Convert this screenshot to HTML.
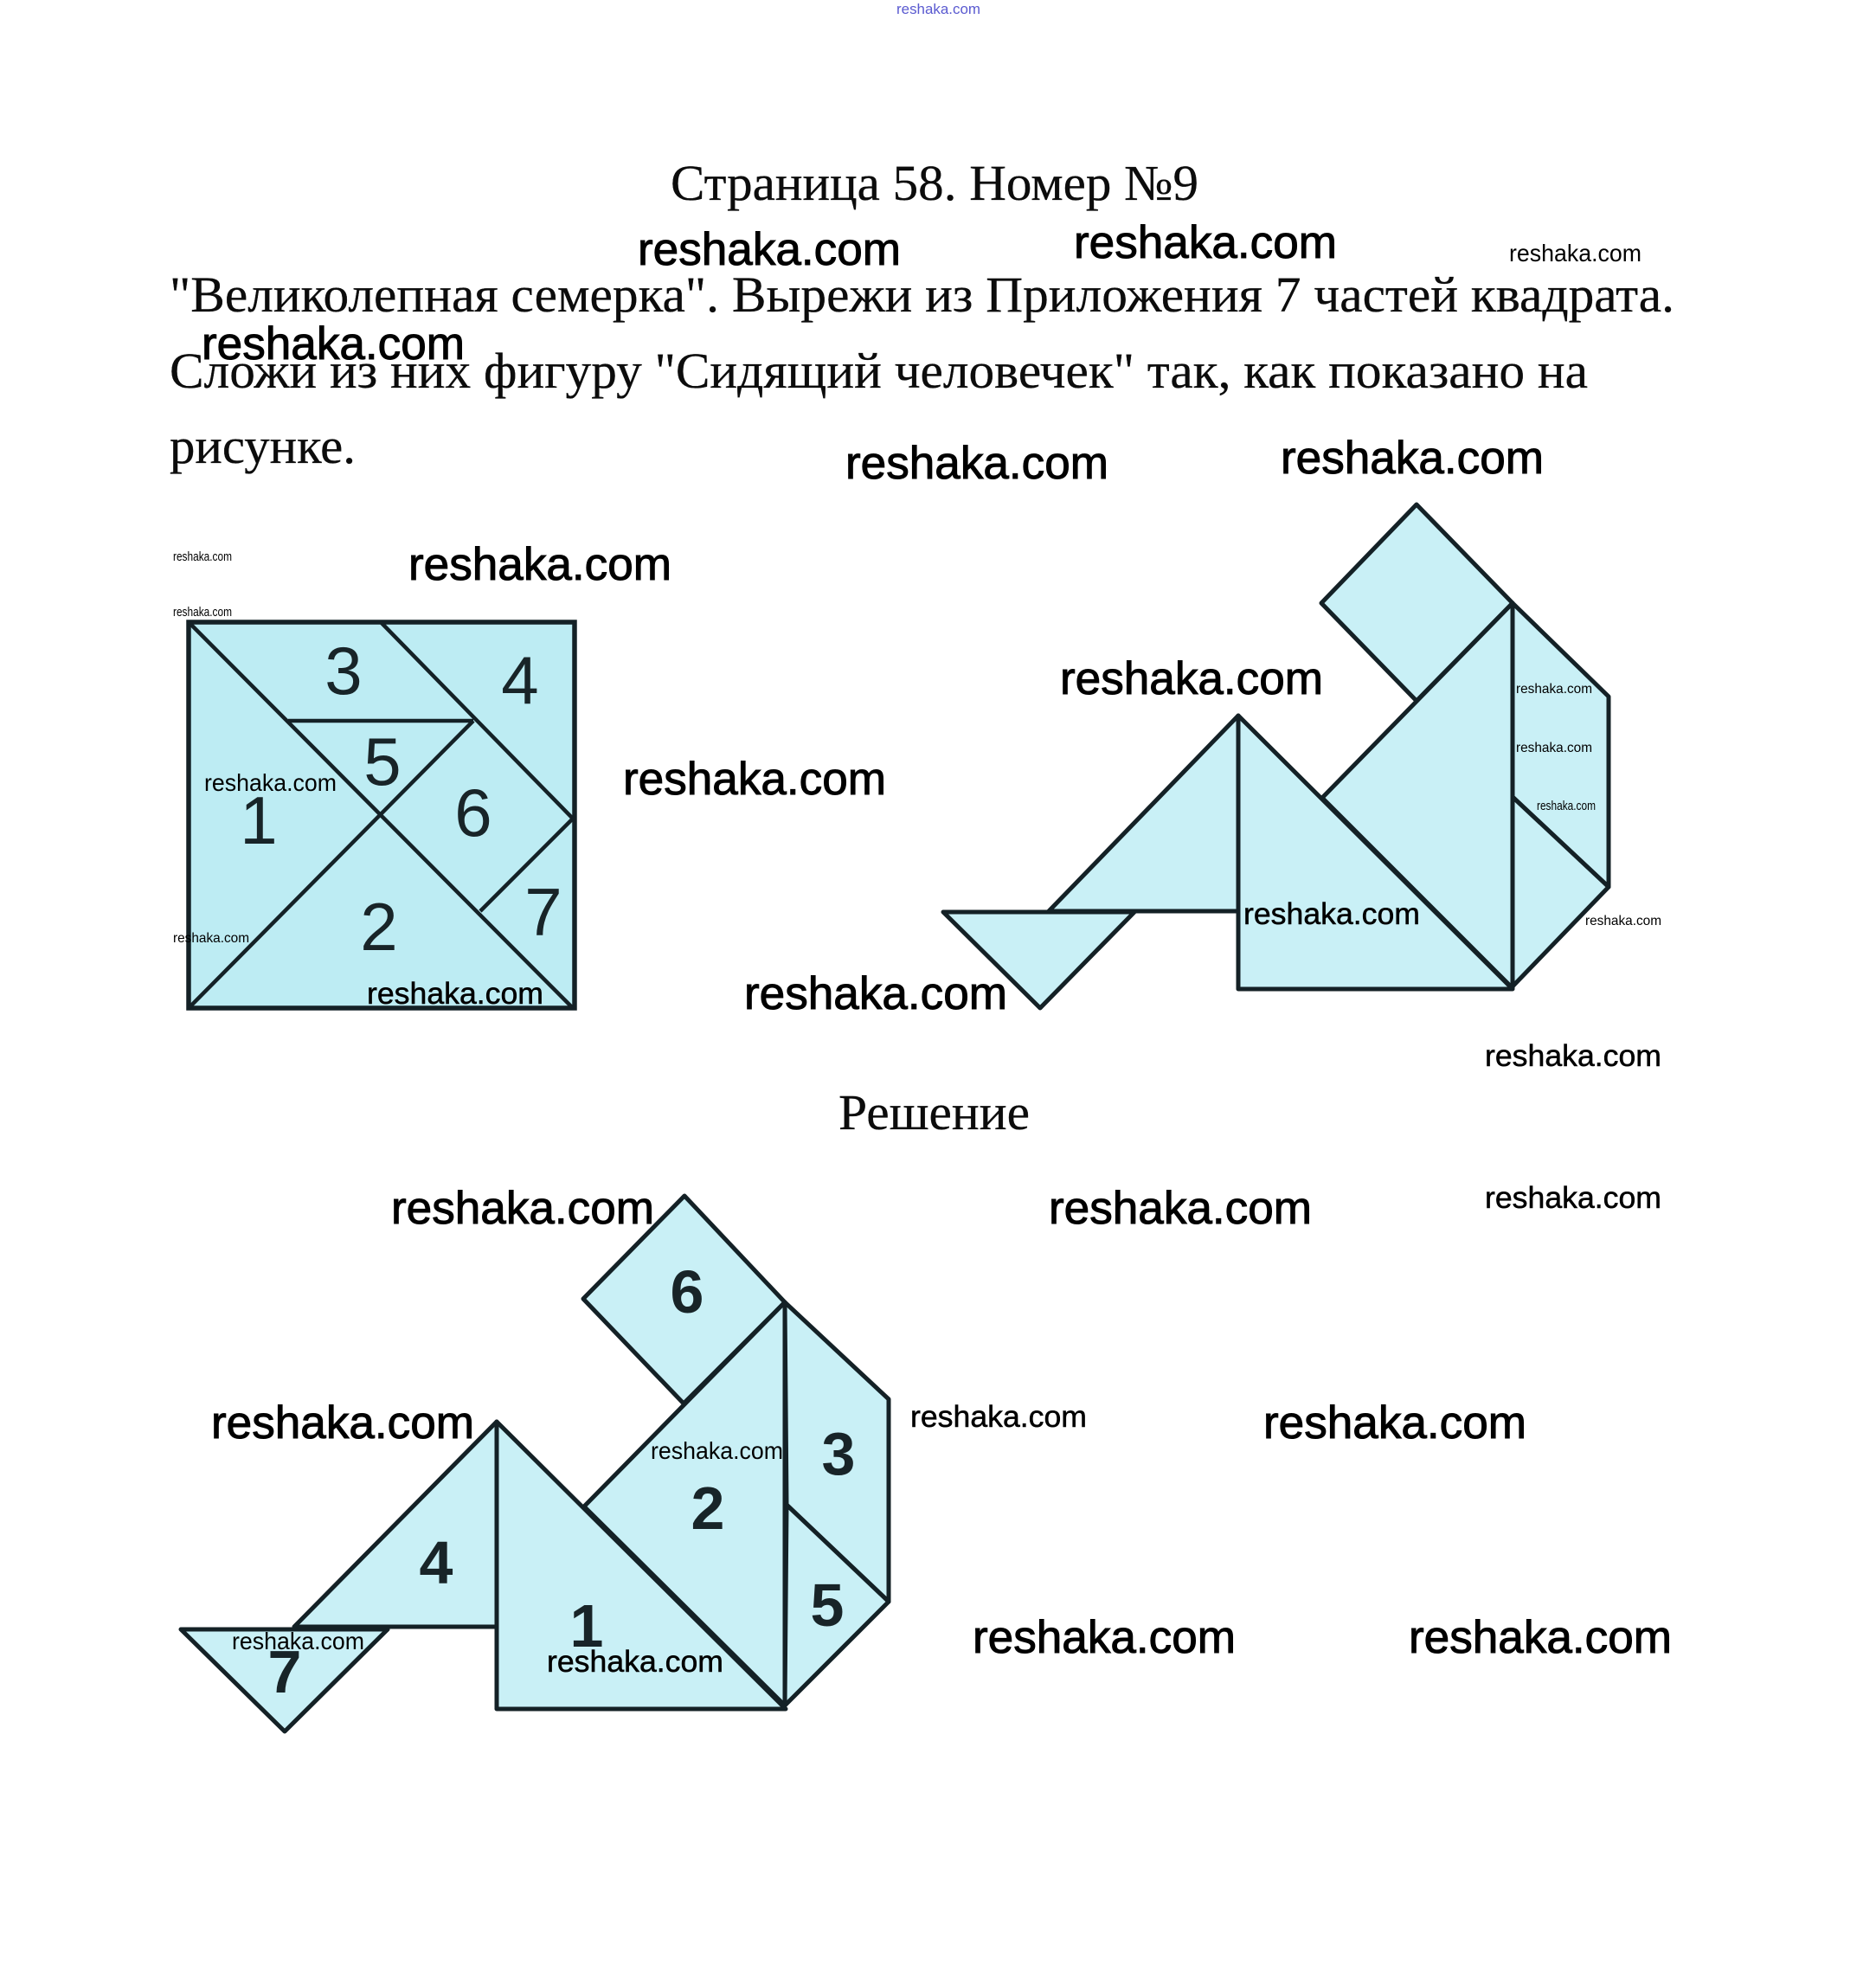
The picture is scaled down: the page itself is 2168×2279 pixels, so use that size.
<!DOCTYPE html>
<html><head><meta charset="utf-8"><style>
html,body{margin:0;padding:0;background:#fff}
svg{display:block}
.t{font-family:"Liberation Serif",serif;fill:#0c0c0c;font-size:58px;stroke:#0c0c0c;stroke-width:.3}
.w{font-family:"Liberation Sans",sans-serif;fill:#000}
.big{stroke:#000;stroke-width:1}
.mid{stroke:#000;stroke-width:.5}
.n{font-family:"Liberation Sans",sans-serif;fill:#182428}
.s{stroke:#142126;stroke-width:5;stroke-linejoin:round;fill:#c9f0f6}
.l{stroke:#142126;stroke-width:4.5;fill:none}
</style></head><body>
<svg width="2168" height="2279" viewBox="0 0 2168 2279" xmlns="http://www.w3.org/2000/svg">
<rect width="2168" height="2279" fill="#fff"/>

<text x="1036" y="16" class="w" style="fill:#5a5ad0;font-size:17px" textLength="97" lengthAdjust="spacingAndGlyphs">reshaka.com</text>

<text x="775" y="231" class="t" textLength="610" lengthAdjust="spacingAndGlyphs">Страница 58. Номер №9</text>
<text x="196" y="360" class="t" textLength="1739" lengthAdjust="spacingAndGlyphs">"Великолепная семерка". Вырежи из Приложения 7 частей квадрата.</text>
<text x="196" y="448" class="t" textLength="1639" lengthAdjust="spacingAndGlyphs">Сложи из них фигуру "Сидящий человечек" так, как показано на</text>
<text x="196" y="535" class="t" textLength="215" lengthAdjust="spacingAndGlyphs">рисунке.</text>
<text x="969" y="1305" class="t" textLength="221" lengthAdjust="spacingAndGlyphs">Решение</text>

<!-- square -->
<g>
<rect x="218" y="719" width="446" height="446" fill="#bdecf3" stroke="#142126" stroke-width="5.5"/>
<path class="l" d="M218 719L662 1165M440 719L662 946M333 833H547M218 1165L547 833M662 946L555 1053"/>
<g class="n" font-size="78" text-anchor="middle">
<text x="397" y="802">3</text><text x="601" y="813">4</text><text x="442" y="907">5</text>
<text x="299" y="975">1</text><text x="547" y="966">6</text><text x="438" y="1098">2</text><text x="628" y="1081">7</text>
</g>
</g>

<!-- figure right -->
<g>
<polygon class="s" points="1637,583 1748,697 1637,810 1527,697"/>
<polygon class="s" points="1748,697 1748,1142 1528,922"/>
<polygon class="s" points="1748,697 1859,805 1859,1025 1748,921"/>
<polygon class="s" points="1748,921 1859,1025 1748,1140"/>
<polygon class="s" points="1431,827 1748,1143 1431,1143"/>
<polygon class="s" points="1431,827 1212,1053 1431,1053"/>
<polygon class="s" points="1090,1054 1311,1054 1202,1165"/>
</g>

<!-- figure bottom -->
<g>
<polygon class="s" points="791,1382 907,1505 790,1622 674,1501"/>
<polygon class="s" points="907,1505 907,1971 675,1741"/>
<polygon class="s" points="907,1505 1027,1617 1027,1851 909,1739"/>
<polygon class="s" points="909,1739 1027,1851 907,1971"/>
<polygon class="s" points="574,1643 908,1975 574,1975"/>
<polygon class="s" points="574,1643 340,1880 574,1880"/>
<polygon class="s" points="209,1883 448,1883 329,2001"/>
<g class="n" font-size="70" font-weight="bold" text-anchor="middle">
<text x="794" y="1517">6</text><text x="818" y="1767">2</text><text x="969" y="1704">3</text>
<text x="504" y="1830">4</text><text x="956" y="1879">5</text><text x="678" y="1903">1</text><text x="329" y="1956">7</text>
</g>
</g>

<!-- watermarks -->
<g class="w big" font-size="53">
<text x="737" y="306" textLength="304" lengthAdjust="spacingAndGlyphs">reshaka.com</text>
<text x="1241" y="298" textLength="304" lengthAdjust="spacingAndGlyphs">reshaka.com</text>
<text x="233" y="415" textLength="304" lengthAdjust="spacingAndGlyphs">reshaka.com</text>
<text x="977" y="553" textLength="304" lengthAdjust="spacingAndGlyphs">reshaka.com</text>
<text x="1480" y="547" textLength="304" lengthAdjust="spacingAndGlyphs">reshaka.com</text>
<text x="472" y="670" textLength="304" lengthAdjust="spacingAndGlyphs">reshaka.com</text>
<text x="720" y="918" textLength="304" lengthAdjust="spacingAndGlyphs">reshaka.com</text>
<text x="1225" y="802" textLength="304" lengthAdjust="spacingAndGlyphs">reshaka.com</text>
<text x="860" y="1166" textLength="304" lengthAdjust="spacingAndGlyphs">reshaka.com</text>
<text x="452" y="1414" textLength="304" lengthAdjust="spacingAndGlyphs">reshaka.com</text>
<text x="1212" y="1414" textLength="304" lengthAdjust="spacingAndGlyphs">reshaka.com</text>
<text x="244" y="1662" textLength="304" lengthAdjust="spacingAndGlyphs">reshaka.com</text>
<text x="1460" y="1662" textLength="304" lengthAdjust="spacingAndGlyphs">reshaka.com</text>
<text x="1124" y="1910" textLength="304" lengthAdjust="spacingAndGlyphs">reshaka.com</text>
<text x="1628" y="1910" textLength="304" lengthAdjust="spacingAndGlyphs">reshaka.com</text>
</g>
<g class="w mid" font-size="35">
<text x="1437" y="1068" textLength="204" lengthAdjust="spacingAndGlyphs">reshaka.com</text>
<text x="424" y="1160" textLength="204" lengthAdjust="spacingAndGlyphs">reshaka.com</text>
<text x="1716" y="1232" textLength="204" lengthAdjust="spacingAndGlyphs">reshaka.com</text>
<text x="1716" y="1396" textLength="204" lengthAdjust="spacingAndGlyphs">reshaka.com</text>
<text x="1052" y="1649" textLength="204" lengthAdjust="spacingAndGlyphs">reshaka.com</text>
<text x="632" y="1932" textLength="204" lengthAdjust="spacingAndGlyphs">reshaka.com</text>
</g>
<g class="w" font-size="28">
<text x="1744" y="302" textLength="153" lengthAdjust="spacingAndGlyphs">reshaka.com</text>
<text x="236" y="914" textLength="153" lengthAdjust="spacingAndGlyphs">reshaka.com</text>
<text x="752" y="1686" textLength="153" lengthAdjust="spacingAndGlyphs">reshaka.com</text>
<text x="268" y="1906" textLength="153" lengthAdjust="spacingAndGlyphs">reshaka.com</text>
</g>
<g class="w" font-size="15">
<text x="200" y="648" textLength="68" lengthAdjust="spacingAndGlyphs">reshaka.com</text>
<text x="200" y="712" textLength="68" lengthAdjust="spacingAndGlyphs">reshaka.com</text>
<text x="1776" y="936" textLength="68" lengthAdjust="spacingAndGlyphs">reshaka.com</text>
</g>
<g class="w" font-size="16">
<text x="200" y="1089" textLength="88" lengthAdjust="spacingAndGlyphs">reshaka.com</text>
<text x="1752" y="801" textLength="88" lengthAdjust="spacingAndGlyphs">reshaka.com</text>
<text x="1752" y="869" textLength="88" lengthAdjust="spacingAndGlyphs">reshaka.com</text>
<text x="1832" y="1069" textLength="88" lengthAdjust="spacingAndGlyphs">reshaka.com</text>
</g>
</svg>
</body></html>
